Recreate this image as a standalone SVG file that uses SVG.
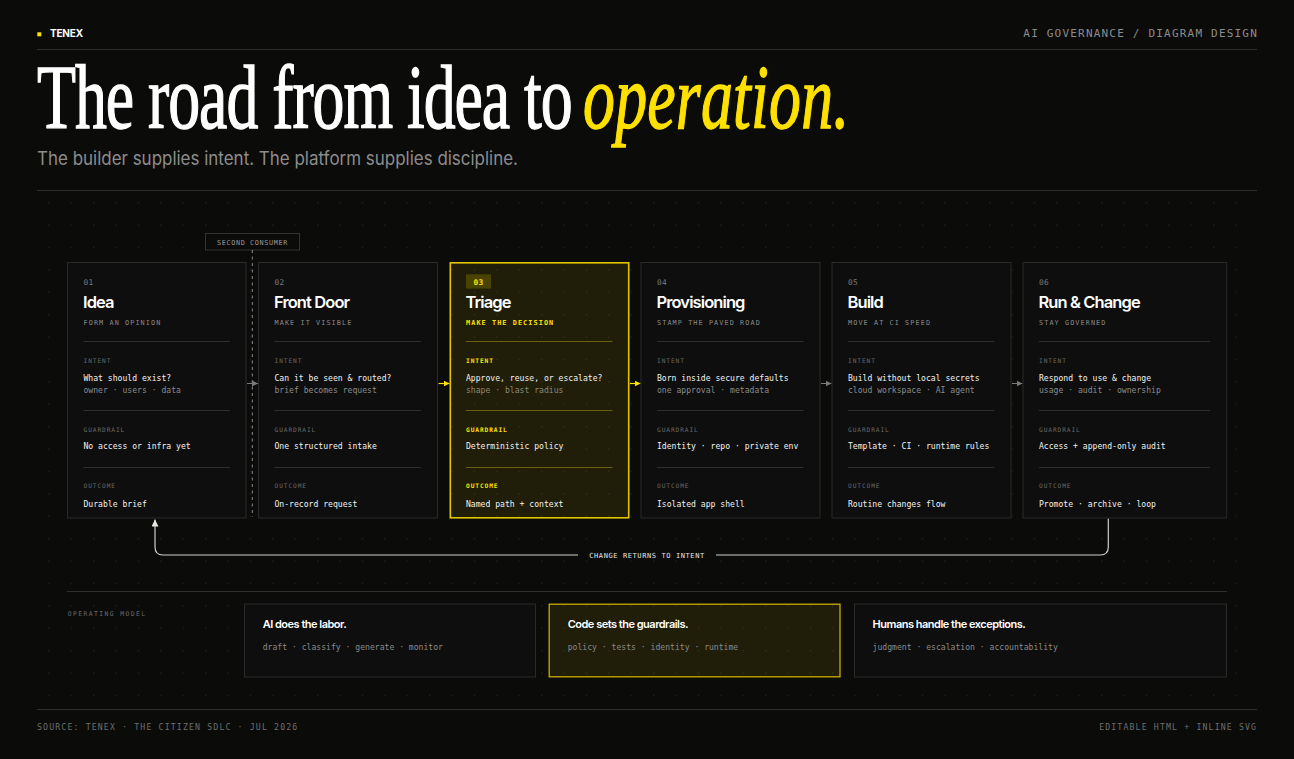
<svg xmlns="http://www.w3.org/2000/svg" width="1294" height="759" viewBox="0 0 1294 759">
<style>
.mono{font-family:"DejaVu Sans Mono","Liberation Mono",monospace}
.sans{font-family:Inter,"Liberation Sans",sans-serif}
.num{font-size:7.8px;fill:#7a7a7a;letter-spacing:0.4px}
.ttl{font-size:16.5px;font-weight:600;fill:#ffffff;letter-spacing:-0.9px}
.sub{font-size:6.8px;fill:#8a8a8a;letter-spacing:1.1px}
.lbl{font-size:6.2px;fill:#6a6a6a;letter-spacing:0.9px}
.body{font-size:8.1px;fill:#f2f2f2}
.dim{font-size:8.1px;fill:#8a8a8a}
.div{stroke:#2e2e2e;stroke-width:1}
.card{fill:#0e0e0e;stroke:#2a2a2a;stroke-width:1}
.hl .sub,.hl .lbl{fill:#ffe100;font-weight:bold}
.hl .div{stroke:#6b5f12}
.hl .dim{fill:#8c8874}
.hlcard{fill:#ffe100;fill-opacity:0.085;stroke:#e2c600;stroke-width:1.6}
.obox{fill:#0e0e0e;stroke:#2a2a2a;stroke-width:1}
.oboxhl{fill:#ffe100;fill-opacity:0.085;stroke:#c9ae00;stroke-width:1.3}
.otitle{font-size:11px;font-weight:600;fill:#ffffff;letter-spacing:-0.5px}
.obody{font-size:8.1px;fill:#8a8a8a}
.rule{stroke:#2f2f2f;stroke-width:1}
.conn{fill:none;stroke:#7a7a7a;stroke-width:1}
.connhl{fill:none;stroke:#ffe100;stroke-width:1.2}
.ret{fill:none;stroke:#cfcfc8;stroke-width:1.2}
</style>
<defs>
<pattern id="dots" x="3.4" y="0.4" width="22.4" height="22.4" patternUnits="userSpaceOnUse">
<circle cx="0.7" cy="0.7" r="0.7" fill="#262626"/>
</pattern>
<marker id="ag" viewBox="0 0 6 6" refX="6" refY="3" markerWidth="6" markerHeight="6" markerUnits="userSpaceOnUse" orient="auto">
<path d="M0,0 L6,3 L0,6 z" fill="#7a7a7a"/>
</marker>
<marker id="ay" viewBox="0 0 6 6" refX="6" refY="3" markerWidth="6" markerHeight="6" markerUnits="userSpaceOnUse" orient="auto">
<path d="M0,0 L6,3 L0,6 z" fill="#ffe100"/>
</marker>
<marker id="aw" viewBox="0 0 7 7" refX="7" refY="3.5" markerWidth="7" markerHeight="7" markerUnits="userSpaceOnUse" orient="auto">
<path d="M0,0 L7,3.5 L0,7 z" fill="#e8e8e2"/>
</marker>
</defs>

<rect x="0" y="0" width="1294" height="759" fill="#0b0b0a"/>
<rect x="37" y="196" width="1220" height="500" fill="url(#dots)"/>

<!-- header -->
<g id="header">
<rect x="37.3" y="32.3" width="4" height="4" fill="#ffe100"/>
<text x="50" y="36.7" class="sans" font-size="10" font-weight="700" fill="#ffffff" letter-spacing="-0.2">TENEX</text>
<text x="1258" y="36.7" class="mono" font-size="11" fill="#8c8c8c" letter-spacing="1.2" text-anchor="end">AI GOVERNANCE / DIAGRAM DESIGN</text>
<line x1="37" y1="49.5" x2="1257" y2="49.5" class="rule"/>
<text transform="scale(0.71,1)" y="128.3" font-family="'Liberation Serif','DejaVu Serif',serif" font-size="90" fill="#ffffff" stroke="#ffffff" stroke-width="1.3"><tspan x="52.1" letter-spacing="-1.5">The road from idea to</tspan><tspan x="821.1" letter-spacing="0.3" font-style="italic" fill="#ffe100" stroke="#ffe100">operation.</tspan></text>
<text x="37" y="165" class="sans" font-size="18.5" fill="#8c8c8c" textLength="481" lengthAdjust="spacingAndGlyphs">The builder supplies intent. The platform supplies discipline.</text>
<line x1="37" y1="190.5" x2="1257" y2="190.5" class="rule"/>
</g>

<!-- second consumer marker -->
<g id="second-consumer">
<rect x="205.5" y="233.5" width="94" height="16.5" fill="#0b0b0a" stroke="#333333" stroke-width="1"/>
<text x="252.5" y="245" class="mono" font-size="6.8" fill="#9a9a9a" letter-spacing="0.65" text-anchor="middle">SECOND CONSUMER</text>
<line x1="252.3" y1="250" x2="252.3" y2="517" stroke="#8a8a8a" stroke-width="1" stroke-dasharray="3 3.5"/>
</g>

<!-- connectors -->
<g id="connectors">
<line x1="247" y1="383.5" x2="258" y2="383.5" class="conn" marker-end="url(#ag)"/>
<line x1="438.5" y1="383.5" x2="449.5" y2="383.5" class="connhl" marker-end="url(#ay)"/>
<line x1="630" y1="383.5" x2="640.5" y2="383.5" class="connhl" marker-end="url(#ay)"/>
<line x1="821" y1="383.5" x2="831.5" y2="383.5" class="conn" marker-end="url(#ag)"/>
<line x1="1012" y1="383.5" x2="1022.5" y2="383.5" class="conn" marker-end="url(#ag)"/>
<path d="M1108.3,518.5 V547 Q1108.3,555 1100.3,555 H716" class="ret"/>
<path d="M578,555 H163 Q155,555 155,547 V519.5" class="ret" marker-end="url(#aw)"/>
<text x="647" y="557.6" class="mono" font-size="7" fill="#e6e6e6" letter-spacing="0.6" text-anchor="middle">CHANGE RETURNS TO INTENT</text>
</g>

<!-- card 01 -->
<g id="card-01" transform="translate(67,262)">
<rect x="0.5" y="0.5" width="178.5" height="255.5" class="card"/>
<text x="16.5" y="23" class="mono num">01</text>
<text x="16" y="46" class="sans ttl">Idea</text>
<text x="16.5" y="63" class="mono sub">FORM AN OPINION</text>
<line x1="16.5" y1="79.5" x2="163" y2="79.5" class="div"/>
<text x="16.5" y="100.7" class="mono lbl">INTENT</text>
<text x="16.5" y="118.7" class="mono body">What should exist?</text>
<text x="16.5" y="131.3" class="mono dim">owner · users · data</text>
<line x1="16.5" y1="148.5" x2="163" y2="148.5" class="div"/>
<text x="16.5" y="169.7" class="mono lbl">GUARDRAIL</text>
<text x="16.5" y="187.3" class="mono body">No access or infra yet</text>
<line x1="16.5" y1="205.5" x2="163" y2="205.5" class="div"/>
<text x="16.5" y="226.3" class="mono lbl">OUTCOME</text>
<text x="16.5" y="244.7" class="mono body">Durable brief</text>
</g>

<!-- card 02 -->
<g id="card-02" transform="translate(258,262)">
<rect x="0.5" y="0.5" width="179" height="255.5" class="card"/>
<text x="16.5" y="23" class="mono num">02</text>
<text x="16" y="46" class="sans ttl">Front Door</text>
<text x="16.5" y="63" class="mono sub">MAKE IT VISIBLE</text>
<line x1="16.5" y1="79.5" x2="163" y2="79.5" class="div"/>
<text x="16.5" y="100.7" class="mono lbl">INTENT</text>
<text x="16.5" y="118.7" class="mono body">Can it be seen &amp; routed?</text>
<text x="16.5" y="131.3" class="mono dim">brief becomes request</text>
<line x1="16.5" y1="148.5" x2="163" y2="148.5" class="div"/>
<text x="16.5" y="169.7" class="mono lbl">GUARDRAIL</text>
<text x="16.5" y="187.3" class="mono body">One structured intake</text>
<line x1="16.5" y1="205.5" x2="163" y2="205.5" class="div"/>
<text x="16.5" y="226.3" class="mono lbl">OUTCOME</text>
<text x="16.5" y="244.7" class="mono body">On-record request</text>
</g>

<!-- card 03 (highlighted) -->
<g id="card-03" class="hl" transform="translate(449.5,262)">
<rect x="0.8" y="0.8" width="178.4" height="255" class="hlcard"/>
<rect x="16.5" y="12.3" width="25" height="14.3" fill="#4a4300"/>
<text x="29" y="23" class="mono" font-size="7.8" font-weight="bold" fill="#ffe100" letter-spacing="0.4" text-anchor="middle">03</text>
<text x="16" y="46" class="sans ttl">Triage</text>
<text x="16.5" y="63" class="mono sub">MAKE THE DECISION</text>
<line x1="16.5" y1="79.5" x2="163" y2="79.5" class="div"/>
<text x="16.5" y="100.7" class="mono lbl">INTENT</text>
<text x="16.5" y="118.7" class="mono body">Approve, reuse, or escalate?</text>
<text x="16.5" y="131.3" class="mono dim">shape · blast radius</text>
<line x1="16.5" y1="148.5" x2="163" y2="148.5" class="div"/>
<text x="16.5" y="169.7" class="mono lbl">GUARDRAIL</text>
<text x="16.5" y="187.3" class="mono body">Deterministic policy</text>
<line x1="16.5" y1="205.5" x2="163" y2="205.5" class="div"/>
<text x="16.5" y="226.3" class="mono lbl">OUTCOME</text>
<text x="16.5" y="244.7" class="mono body">Named path + context</text>
</g>

<!-- card 04 -->
<g id="card-04" transform="translate(640.5,262)">
<rect x="0.5" y="0.5" width="179" height="255.5" class="card"/>
<text x="16.5" y="23" class="mono num">04</text>
<text x="16" y="46" class="sans ttl">Provisioning</text>
<text x="16.5" y="63" class="mono sub">STAMP THE PAVED ROAD</text>
<line x1="16.5" y1="79.5" x2="163" y2="79.5" class="div"/>
<text x="16.5" y="100.7" class="mono lbl">INTENT</text>
<text x="16.5" y="118.7" class="mono body">Born inside secure defaults</text>
<text x="16.5" y="131.3" class="mono dim">one approval · metadata</text>
<line x1="16.5" y1="148.5" x2="163" y2="148.5" class="div"/>
<text x="16.5" y="169.7" class="mono lbl">GUARDRAIL</text>
<text x="16.5" y="187.3" class="mono body">Identity · repo · private env</text>
<line x1="16.5" y1="205.5" x2="163" y2="205.5" class="div"/>
<text x="16.5" y="226.3" class="mono lbl">OUTCOME</text>
<text x="16.5" y="244.7" class="mono body">Isolated app shell</text>
</g>

<!-- card 05 -->
<g id="card-05" transform="translate(831.5,262)">
<rect x="0.5" y="0.5" width="179" height="255.5" class="card"/>
<text x="16.5" y="23" class="mono num">05</text>
<text x="16" y="46" class="sans ttl">Build</text>
<text x="16.5" y="63" class="mono sub">MOVE AT CI SPEED</text>
<line x1="16.5" y1="79.5" x2="163" y2="79.5" class="div"/>
<text x="16.5" y="100.7" class="mono lbl">INTENT</text>
<text x="16.5" y="118.7" class="mono body">Build without local secrets</text>
<text x="16.5" y="131.3" class="mono dim">cloud workspace · AI agent</text>
<line x1="16.5" y1="148.5" x2="163" y2="148.5" class="div"/>
<text x="16.5" y="169.7" class="mono lbl">GUARDRAIL</text>
<text x="16.5" y="187.3" class="mono body">Template · CI · runtime rules</text>
<line x1="16.5" y1="205.5" x2="163" y2="205.5" class="div"/>
<text x="16.5" y="226.3" class="mono lbl">OUTCOME</text>
<text x="16.5" y="244.7" class="mono body">Routine changes flow</text>
</g>

<!-- card 06 -->
<g id="card-06" transform="translate(1022.5,262)">
<rect x="0.5" y="0.5" width="203.7" height="255.5" class="card"/>
<text x="16.5" y="23" class="mono num">06</text>
<text x="16" y="46" class="sans ttl">Run &amp; Change</text>
<text x="16.5" y="63" class="mono sub">STAY GOVERNED</text>
<line x1="16.5" y1="79.5" x2="187.5" y2="79.5" class="div"/>
<text x="16.5" y="100.7" class="mono lbl">INTENT</text>
<text x="16.5" y="118.7" class="mono body">Respond to use &amp; change</text>
<text x="16.5" y="131.3" class="mono dim">usage · audit · ownership</text>
<line x1="16.5" y1="148.5" x2="187.5" y2="148.5" class="div"/>
<text x="16.5" y="169.7" class="mono lbl">GUARDRAIL</text>
<text x="16.5" y="187.3" class="mono body">Access + append-only audit</text>
<line x1="16.5" y1="205.5" x2="187.5" y2="205.5" class="div"/>
<text x="16.5" y="226.3" class="mono lbl">OUTCOME</text>
<text x="16.5" y="244.7" class="mono body">Promote · archive · loop</text>
</g>

<!-- operating model -->
<g id="operating-model">
<line x1="67" y1="591.5" x2="1227" y2="591.5" class="rule"/>
<text x="67.7" y="615.7" class="mono" font-size="6.4" fill="#6a6a6a" letter-spacing="1.4">OPERATING MODEL</text>
</g>
<g id="op-ai">
<rect x="244.5" y="604" width="291" height="73" class="obox"/>
<text x="262.7" y="628.3" class="sans otitle">AI does the labor.</text>
<text x="262.7" y="650" class="mono obody">draft · classify · generate · monitor</text>
</g>
<g id="op-code">
<rect x="549.2" y="604.2" width="290.8" height="72.6" class="oboxhl"/>
<text x="567.7" y="628.3" class="sans otitle">Code sets the guardrails.</text>
<text x="567.7" y="650" class="mono obody">policy · tests · identity · runtime</text>
</g>
<g id="op-humans">
<rect x="854.5" y="604" width="372" height="73" class="obox"/>
<text x="872.6" y="628.3" class="sans otitle">Humans handle the exceptions.</text>
<text x="872.6" y="650" class="mono obody">judgment · escalation · accountability</text>
</g>

<!-- footer -->
<g id="footer">
<line x1="37" y1="709.5" x2="1257" y2="709.5" class="rule"/>
<text x="37" y="729.7" class="mono" font-size="8.2" fill="#6e6e6e" letter-spacing="1.15">SOURCE: TENEX · THE CITIZEN SDLC · JUL 2026</text>
<text x="1257.2" y="729.7" class="mono" font-size="8.2" fill="#6e6e6e" letter-spacing="1.15" text-anchor="end">EDITABLE HTML + INLINE SVG</text>
</g>
</svg>
